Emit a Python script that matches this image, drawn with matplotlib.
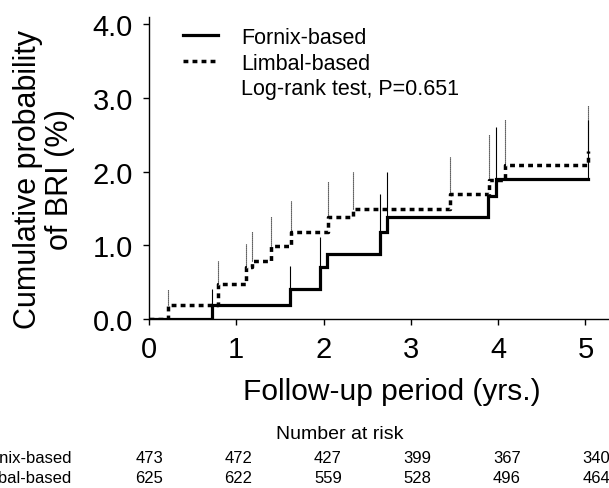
import numpy as np
import matplotlib
matplotlib.use('Agg')
import matplotlib.pyplot as plt
from matplotlib.lines import Line2D

plt.rcParams['font.family'] = ['Liberation Sans', 'DejaVu Sans']

# Kaplan-Meier style cumulative incidence
forn_t = [0, 0.72, 1.62, 1.96, 2.04, 2.65, 2.73, 3.88, 3.98, 5.03]
forn_y = [0, 0.19, 0.41, 0.71, 0.88, 1.18, 1.38, 1.67, 1.90, 1.90]
forn_up = [np.nan, 0.41, 0.72, 1.12, np.nan, 1.70, 2.00, np.nan, 2.60, 2.70]

limb_t = [0, 0.22, 0.79, 1.11, 1.18, 1.40, 1.63, 2.05, 2.34, 3.45, 3.89, 4.08, 5.03]
limb_y = [0, 0.19, 0.47, 0.70, 0.79, 0.99, 1.18, 1.38, 1.49, 1.70, 1.89, 2.09, 2.28]
limb_up = [np.nan, 0.41, 0.79, 1.02, 1.20, 1.40, 1.60, 1.88, 2.00, 2.20, 2.51, 2.72, 2.90]

groups = ['Fornix-based', 'Limbal-based']
risk_forn = [473, 472, 427, 399, 367, 340]
risk_limb = [625, 622, 559, 528, 496, 464]

W, H = 609, 489
fig = plt.figure(figsize=(W / 100, H / 100), dpi=100)
ax = fig.add_axes([149 / W, 169 / H, 460 / W, 302 / H])

dots = (0, (1.4, 1.2))
ax.step(forn_t, forn_y, where='post', color='black', lw=2.3, solid_joinstyle='miter')
ax.step(limb_t, limb_y, where='post', color='black', lw=2.5, linestyle=dots)

# upper confidence bars
for t, y, u in zip(forn_t, forn_y, forn_up):
    if not np.isnan(u):
        ax.vlines(t, y, u, color='black', lw=0.8)
for t, y, u in zip(limb_t, limb_y, limb_up):
    if not np.isnan(u):
        ax.vlines(t, y, u, color='black', lw=0.8, linestyles=(0, (1, 0.8)))

ax.set_xlim(0, 5.27)
ax.set_ylim(0, 4.1)
ax.set_xticks(range(6))
ax.set_yticks([0, 1, 2, 3, 4])
ax.set_yticklabels(['%.1f' % v for v in [0, 1, 2, 3, 4]])
ax.tick_params(direction='out', length=4.5, width=1, labelsize=21, pad=7)
for s in ['top', 'right']:
    ax.spines[s].set_visible(False)
ax.spines['left'].set_linewidth(1)
ax.spines['bottom'].set_linewidth(1)

handles = [Line2D([], [], color='black', lw=2.3),
           Line2D([], [], color='black', lw=2.5, linestyle=dots),
           Line2D([], [], color='none')]
labels = groups + ['Log-rank test, P=0.651']
ax.legend(handles, labels, loc='upper left', bbox_to_anchor=(0.074, 0.967),
          frameon=False, fontsize=15.5, handlelength=1.63, handletextpad=1.07,
          labelspacing=0.22, borderpad=0, borderaxespad=0)

fig.text(44 / W, 1 - 180 / H, 'Cumulative probability\nof BRI (%)', rotation=90,
         ha='center', va='center', fontsize=22, linespacing=1.1, multialignment='center')
fig.text(392 / W, 1 - 392 / H, 'Follow-up period (yrs.)', ha='center', va='center', fontsize=21.5)

# number at risk table
fig.text(340 / W, 1 - 435 / H, 'Number at risk', ha='center', va='center', fontsize=14)
row_y = [459, 479]
for name, row, yy in zip(groups, [risk_forn, risk_limb], row_y):
    fig.text(72 / W, 1 - yy / H, name, ha='right', va='center', fontsize=12)
    for i, n in enumerate(row):
        fig.text((149 + i * 89.5) / W, 1 - yy / H, str(n), ha='center', va='center', fontsize=12)

fig.savefig('out.png', dpi=100)
